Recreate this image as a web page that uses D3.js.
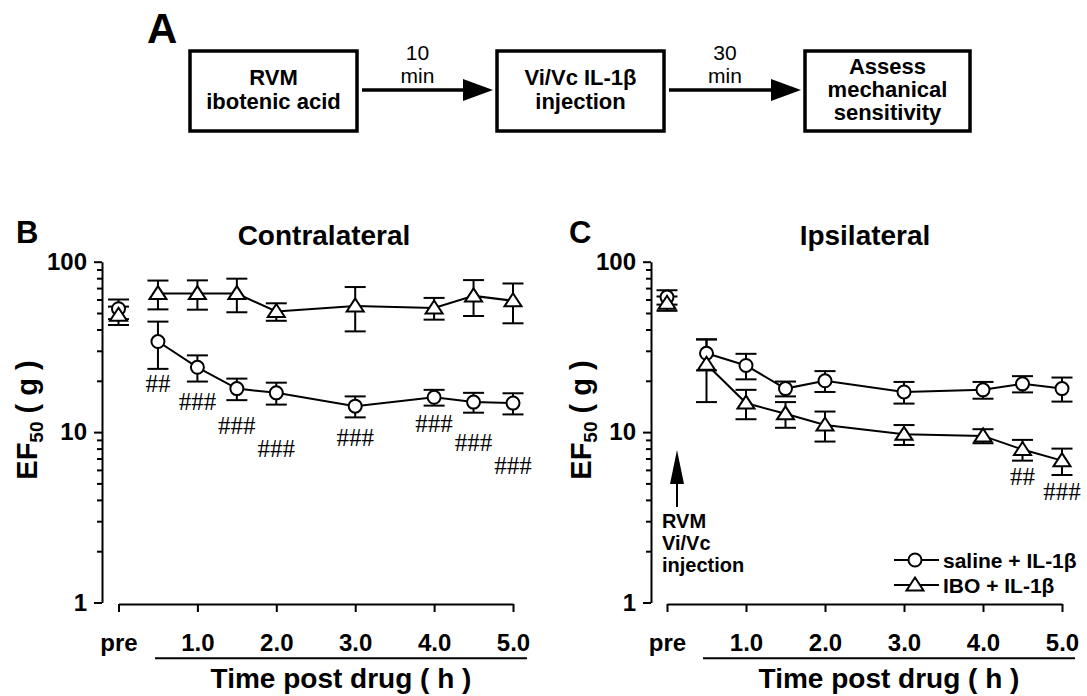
<!DOCTYPE html>
<html>
<head>
<meta charset="utf-8">
<script src="https://cdn.jsdelivr.net/npm/d3@7"></script>
<style>
  body { margin: 0; background: #fff; }
  svg { display: block; font-family: "Liberation Sans", Arial, Helvetica, sans-serif; }
</style>
</head>
<body>
<svg id="fig" width="1087" height="696"></svg>
<script>
// ---- data ----
const flowSteps = [['RVM', 'ibotenic acid'], ['Vi/Vc IL-1β', 'injection'], ['Assess', 'mechanical', 'sensitivity']]
const flowDelays = [['10', 'min'], ['30', 'min']]

const timesH = [0, 0.5, 1, 1.5, 2, 3, 4, 4.5, 5] // 0 = pre
const xTickValues = [0, 1, 2, 3, 4, 5]
const xTickLabels = ['pre', '1.0', '2.0', '3.0', '4.0', '5.0']
const yMajorTicks = [1, 10, 100]
const seriesNames = ['saline + IL-1β', 'IBO + IL-1β']

const contraSalineMean = [53, 34, 24, 18, 17, 14.2, 16, 15, 14.8]
const contraSalineSem = [7, 10.5, 4.2, 2.6, 2.5, 2, 1.7, 2, 2.1]
const contraIboMean = [48.5, 65, 65, 65, 51, 55, 53.5, 63, 59]
const contraIboSem = [6, 12.5, 12.7, 14.5, 6, 16, 7.8, 15, 15.5]

const ipsiSalineMean = [62, 29, 24.6, 18, 20, 17.2, 17.7, 19.2, 18]
const ipsiSalineSem = [6, 6, 4.2, 1.8, 2.8, 2.5, 2, 2.1, 2.9]
const ipsiIboMean = [57, 25, 14.8, 12.8, 11, 9.7, 9.5, 7.9, 6.8]
const ipsiIboSem = [5.5, 10, 2.9, 2.2, 2.2, 1.3, 0.9, 1.1, 1.2]

// significance marks: time, label, level (g) the mark is centred on
const contraHashTimes = [0.5, 1, 1.5, 2, 3, 4, 4.5, 5]
const contraHashLabels = ['##', '###', '###', '###', '###', '###', '###', '###']
const contraHashLevel = [19.4, 15.1, 11.0, 8.06, 9.38, 11.25, 8.77, 6.4]
const ipsiHashTimes = [4.5, 5]
const ipsiHashLabels = ['##', '###']
const ipsiHashLevel = [5.47, 4.47]

// ---- drawing ----
const svg = d3.select('#fig')
const ink = '#000'

const circlePath = d3.symbol(d3.symbolCircle, Math.PI * 6.5 * 6.5)()
const trianglePath = 'M0,-7.5L8.5,5.5L-8.5,5.5Z'

// Panel A: flow chart
function drawFlow () {
  const g = svg.append('g')
  const boxLeft = [190, 497, 805]
  const boxWidth = [167, 167, 165]
  const top = 51
  const height = 80
  const midY = 90

  g.append('text').attr('x', 147).attr('y', 43)
    .attr('font-size', 42).attr('font-weight', 'bold').text('A')

  flowSteps.forEach((lines, i) => {
    g.append('rect')
      .attr('x', boxLeft[i]).attr('y', top)
      .attr('width', boxWidth[i]).attr('height', height)
      .attr('fill', 'none').attr('stroke', ink).attr('stroke-width', 3.5)
    const lh = lines.length > 2 ? 23 : 24
    const first = 89 - lh * (lines.length - 1) / 2 + 8
    g.append('text')
      .attr('text-anchor', 'middle').attr('font-size', 22).attr('font-weight', 'bold')
      .selectAll('tspan').data(lines).join('tspan')
      .attr('x', boxLeft[i] + boxWidth[i] / 2)
      .attr('y', (d, j) => first + j * lh)
      .text(d => d)
  })

  flowDelays.forEach((lines, i) => {
    const x0 = boxLeft[i] + boxWidth[i] + 5
    const x1 = boxLeft[i + 1] - 4
    g.append('line')
      .attr('x1', x0).attr('x2', x1 - 25).attr('y1', midY).attr('y2', midY)
      .attr('stroke', ink).attr('stroke-width', 3.5)
    g.append('path')
      .attr('d', `M${x1},${midY}L${x1 - 30},${midY - 11}L${x1 - 30},${midY + 11}Z`)
      .attr('fill', ink)
    g.append('text')
      .attr('text-anchor', 'middle').attr('font-size', 21)
      .selectAll('tspan').data(lines).join('tspan')
      .attr('x', (x0 + x1) / 2 - 10)
      .attr('y', (d, j) => 60 + j * 23)
      .text(d => d)
  })
}

function drawPanel (cfg) {
  const g = svg.append('g')
  const x = d3.scaleLinear().domain([0, 5]).range(cfg.xRange)
  const y = d3.scaleLog().domain([1, 100]).range([602.5, 261.7])

  // y axis, major + minor ticks
  const yAxis = g.append('g')
    .attr('transform', `translate(${cfg.yAxisX},0)`)
    .call(d3.axisLeft(y).tickValues(yMajorTicks).tickSize(8).tickSizeOuter(0)
      .tickPadding(7).tickFormat(d3.format('d')))
  yAxis.append('g')
    .call(d3.axisLeft(y).tickValues(y.ticks().filter(v => !yMajorTicks.includes(v)))
      .tickSize(5).tickFormat(''))
    .call(a => a.select('.domain').remove())
  yAxis.attr('font-size', 24).attr('font-weight', 'bold')
    .attr('font-family', null)
  yAxis.selectAll('text').attr('fill', ink)
  yAxis.selectAll('path, line').attr('stroke', ink).attr('stroke-width', 2)

  // x axis
  const xAxis = g.append('g')
    .attr('transform', 'translate(0,604)')
    .call(d3.axisBottom(x).tickValues(xTickValues).tickSize(8).tickSizeOuter(0)
      .tickPadding(22).tickFormat((d, i) => xTickLabels[i]))
  xAxis.attr('font-size', 24).attr('font-weight', 'bold').attr('font-family', null)
  xAxis.selectAll('text').attr('fill', ink)
  xAxis.selectAll('path, line').attr('stroke', ink).attr('stroke-width', 2)

  g.append('line')
    .attr('x1', cfg.underline[0]).attr('x2', cfg.underline[1])
    .attr('y1', 658.3).attr('y2', 658.3)
    .attr('stroke', ink).attr('stroke-width', 2)
  g.append('text')
    .attr('x', (cfg.underline[0] + cfg.underline[1]) / 2).attr('y', 688)
    .attr('text-anchor', 'middle').attr('font-size', 28).attr('font-weight', 'bold')
    .text('Time post drug ( h )')

  // y label
  const yl = g.append('text')
    .attr('transform', `translate(${cfg.yLabelX},420) rotate(-90)`)
    .attr('text-anchor', 'middle').attr('font-size', 29).attr('font-weight', 'bold')
  yl.append('tspan').text('EF')
  yl.append('tspan').attr('font-size', 19).attr('dy', 6).text('50')
  yl.append('tspan').attr('dy', -6).text(' ( g )')

  // titles
  g.append('text').attr('x', cfg.letterX).attr('y', 243)
    .attr('font-size', 31).attr('font-weight', 'bold').text(cfg.letter)
  g.append('text').attr('x', cfg.titleX).attr('y', 245)
    .attr('text-anchor', 'middle').attr('font-size', 28).attr('font-weight', 'bold')
    .text(cfg.title)

  // series
  const series = cfg.series.map(s => timesH.map((t, i) => ({ t, m: s.mean[i], e: s.sem[i], shape: s.shape })))
  const line = d3.line().x(d => x(d.t)).y(d => y(d.m))

  series.forEach(pts => {
    g.append('path')
      .attr('d', line(pts.filter(d => d.t > 0)))
      .attr('fill', 'none').attr('stroke', ink).attr('stroke-width', 2)
  })

  series.forEach(pts => {
    const eb = g.append('g').attr('stroke', ink).attr('stroke-width', 2)
    pts.forEach(d => {
      const cx = x(d.t)
      const yt = y(d.m + d.e)
      const yb = y(d.m - d.e)
      eb.append('line').attr('x1', cx).attr('x2', cx).attr('y1', yt).attr('y2', yb)
      eb.append('line').attr('x1', cx - 10.5).attr('x2', cx + 10.5).attr('y1', yt).attr('y2', yt)
      eb.append('line').attr('x1', cx - 10.5).attr('x2', cx + 10.5).attr('y1', yb).attr('y2', yb)
    })
  })

  series.forEach(pts => {
    g.append('g').selectAll('path').data(pts).join('path')
      .attr('transform', d => `translate(${x(d.t)},${y(d.m)})`)
      .attr('d', d => d.shape === 'circle' ? circlePath : trianglePath)
      .attr('fill', '#fff').attr('stroke', ink).attr('stroke-width', 2)
  })

  // significance marks
  g.append('g')
    .attr('font-family', '"Liberation Serif", "Times New Roman", serif')
    .attr('font-size', 25).attr('text-anchor', 'middle')
    .selectAll('text').data(cfg.hashTimes).join('text')
    .attr('x', d => x(d))
    .attr('y', (d, i) => y(cfg.hashLevel[i]))
    .attr('dy', '0.35em')
    .text((d, i) => cfg.hashLabels[i])

  return { g, x, y }
}

drawFlow()

drawPanel({
  letter: 'B', letterX: 16, title: 'Contralateral', titleX: 324,
  xRange: [118.5, 513], yAxisX: 102, yLabelX: 37, underline: [155, 527],
  series: [
    { mean: contraSalineMean, sem: contraSalineSem, shape: 'circle' },
    { mean: contraIboMean, sem: contraIboSem, shape: 'triangle' }
  ],
  hashTimes: contraHashTimes, hashLabels: contraHashLabels, hashLevel: contraHashLevel
})

const pc = drawPanel({
  letter: 'C', letterX: 569, title: 'Ipsilateral', titleX: 865,
  xRange: [667, 1062], yAxisX: 651, yLabelX: 591, underline: [703, 1075],
  series: [
    { mean: ipsiSalineMean, sem: ipsiSalineSem, shape: 'circle' },
    { mean: ipsiIboMean, sem: ipsiIboSem, shape: 'triangle' }
  ],
  hashTimes: ipsiHashTimes, hashLabels: ipsiHashLabels, hashLevel: ipsiHashLevel
})

// injection arrow in C
const ax = pc.x(0) + 10
pc.g.append('line').attr('x1', ax).attr('x2', ax).attr('y1', 507).attr('y2', 480)
  .attr('stroke', ink).attr('stroke-width', 2)
pc.g.append('path').attr('d', `M${ax},450L${ax + 7},484L${ax - 7},484Z`).attr('fill', ink)
pc.g.append('text').attr('font-size', 20).attr('font-weight', 'bold')
  .selectAll('tspan').data(['RVM', 'Vi/Vc', 'injection']).join('tspan')
  .attr('x', ax - 15).attr('y', (d, i) => 528 + i * 22)
  .text(d => d)

// legend
const legend = pc.g.append('g')
seriesNames.forEach((name, i) => {
  const ly = 560 + i * 25
  legend.append('line').attr('x1', 894).attr('x2', 939).attr('y1', ly).attr('y2', ly)
    .attr('stroke', ink).attr('stroke-width', 2)
  legend.append('path').attr('transform', `translate(915,${ly})`)
    .attr('d', i === 0 ? circlePath : trianglePath)
    .attr('fill', '#fff').attr('stroke', ink).attr('stroke-width', 2)
  legend.append('text').attr('x', 943).attr('y', ly + 7.5)
    .attr('font-size', 21).attr('font-weight', 'bold').text(name)
})
</script>
</body>
</html>
